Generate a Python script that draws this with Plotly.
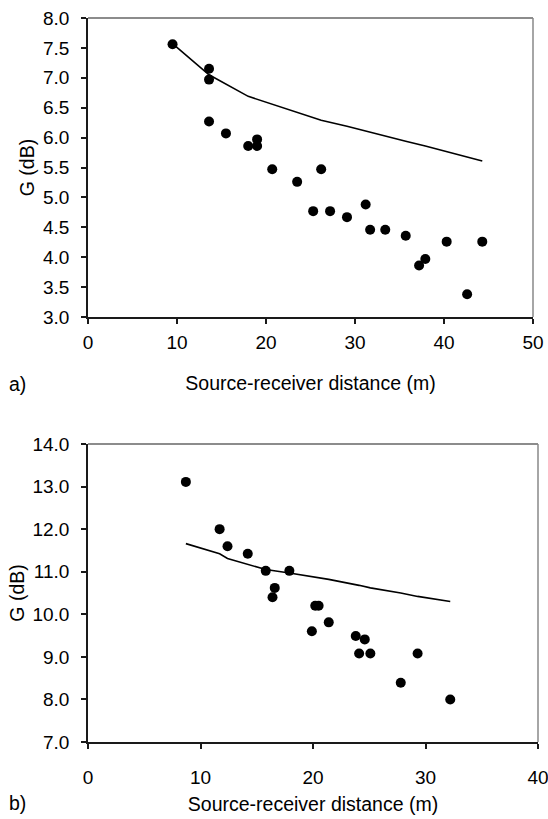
import plotly.graph_objects as go

# Panel a) measured values
a_dist = [9.5, 13.6, 13.6, 13.6, 15.5, 18.0, 19.0, 19.0, 20.7, 23.5, 26.2, 25.3, 27.2,
          29.1, 31.2, 31.7, 33.4, 35.7, 37.2, 37.9, 40.3, 42.6, 44.3]
a_G = [7.56, 7.15, 6.97, 6.27, 6.07, 5.86, 5.97, 5.86, 5.47, 5.26, 5.47, 4.77, 4.77,
       4.67, 4.88, 4.46, 4.46, 4.36, 3.86, 3.97, 4.26, 3.38, 4.26]
# Panel a) predicted curve
a_line_dist = [9.5, 13.6, 18.0, 20.7, 23.5, 26.2, 29.1, 31.7, 33.4, 35.7, 37.9, 40.3, 44.3]
a_line_G = [7.57, 7.05, 6.69, 6.56, 6.42, 6.29, 6.19, 6.09, 6.02, 5.94, 5.86, 5.77, 5.61]

# Panel b) measured values
b_dist = [8.7, 11.7, 12.4, 14.2, 15.8, 16.4, 16.6, 17.9, 20.2, 20.5, 19.9, 21.4, 23.8,
          24.6, 24.1, 25.1, 29.3, 27.8, 32.2]
b_G = [13.11, 12.0, 11.6, 11.42, 11.02, 10.4, 10.62, 11.02, 10.2, 10.2, 9.6, 9.81, 9.49,
       9.41, 9.08, 9.08, 9.08, 8.39, 8.0]
# Panel b) predicted curve
b_line_dist = [8.7, 11.7, 12.4, 14.2, 15.8, 17.9, 20.3, 21.4, 24.1, 25.1, 27.8, 29.3, 32.2]
b_line_G = [11.66, 11.42, 11.31, 11.18, 11.05, 10.97, 10.87, 10.82, 10.68, 10.62, 10.50, 10.42, 10.30]

a_xticks = [0, 10, 20, 30, 40, 50]
a_yticks = [3.0, 3.5, 4.0, 4.5, 5.0, 5.5, 6.0, 6.5, 7.0, 7.5, 8.0]
b_xticks = [0, 10, 20, 30, 40]
b_yticks = [7.0, 8.0, 9.0, 10.0, 11.0, 12.0, 13.0, 14.0]

# full-window figure (the page body margin is removed in post_script below)
W, H = 548, 819


def px(xr):
    return xr / W


def py(yr):
    return 1 - yr / H


FONT = "Liberation Sans, Arial, sans-serif"
AXC = "#1a1a1a"
TICK_SIZE = 19
TITLE_SIZE = 19.5

fig = go.Figure()
fig.add_trace(go.Scatter(x=a_line_dist, y=a_line_G, mode="lines",
                         line=dict(color="black", width=1.6), xaxis="x", yaxis="y",
                         showlegend=False, hoverinfo="skip"))
fig.add_trace(go.Scatter(x=a_dist, y=a_G, mode="markers",
                         marker=dict(color="black", size=10), xaxis="x", yaxis="y",
                         showlegend=False))
fig.add_trace(go.Scatter(x=b_line_dist, y=b_line_G, mode="lines",
                         line=dict(color="black", width=1.6), xaxis="x2", yaxis="y2",
                         showlegend=False, hoverinfo="skip"))
fig.add_trace(go.Scatter(x=b_dist, y=b_G, mode="markers",
                         marker=dict(color="black", size=10), xaxis="x2", yaxis="y2",
                         showlegend=False))

common_ax = dict(showline=True, linecolor=AXC, linewidth=1.5, ticks="outside",
                 ticklen=5, tickwidth=1.5, tickcolor=AXC, showgrid=False,
                 zeroline=False, ticklabeloverflow="allow", automargin=False,
                 tickfont=dict(family=FONT, size=TICK_SIZE, color="black"))

fig.update_layout(
    width=W, height=H, margin=dict(l=0, r=0, t=0, b=0, autoexpand=False),
    paper_bgcolor="white", plot_bgcolor="white",
    font=dict(family=FONT, size=TICK_SIZE, color="black"),
    xaxis=dict(domain=[px(88), px(533)], anchor="y", range=[0, 50],
               tickvals=a_xticks, ticktext=[str(v) for v in a_xticks],
               ticklabelstandoff=2,
               title=dict(text="Source-receiver distance (m)", standoff=25,
                          font=dict(family=FONT, size=TITLE_SIZE)), **common_ax),
    yaxis=dict(domain=[py(317), py(18)], anchor="x", range=[3, 8],
               tickvals=a_yticks, ticktext=[f"{v:.1f}" for v in a_yticks],
               ticklabelstandoff=8,
               title=dict(text="G (dB)", standoff=3,
                          font=dict(family=FONT, size=TITLE_SIZE)), **common_ax),
    xaxis2=dict(domain=[px(88), px(538)], anchor="y2", range=[0, 40],
                tickvals=b_xticks, ticktext=[str(v) for v in b_xticks],
                ticklabelstandoff=12,
                title=dict(text="Source-receiver distance (m)", standoff=11,
                           font=dict(family=FONT, size=TITLE_SIZE)), **common_ax),
    yaxis2=dict(domain=[py(742), py(444)], anchor="x2", range=[7, 14],
                tickvals=b_yticks, ticktext=[f"{v:.1f}" for v in b_yticks],
                ticklabelstandoff=8,
                title=dict(text="G (dB)", standoff=3,
                           font=dict(family=FONT, size=TITLE_SIZE)), **common_ax),
)

# top/right frame in gray
for xr, yr in (("x domain", "y domain"), ("x2 domain", "y2 domain")):
    fig.add_shape(type="line", xref=xr, yref=yr, x0=0, x1=1, y0=1, y1=1,
                  line=dict(color="#666666", width=1.5))
    fig.add_shape(type="line", xref=xr, yref=yr, x0=1, x1=1, y0=0, y1=1,
                  line=dict(color="#888888", width=1.5))

fig.add_annotation(text="a)", xref="paper", yref="paper", x=px(7), y=py(384),
                   xanchor="left", yanchor="middle", showarrow=False,
                   font=dict(family=FONT, size=TITLE_SIZE))
fig.add_annotation(text="b)", xref="paper", yref="paper", x=px(7), y=py(803),
                   xanchor="left", yanchor="middle", showarrow=False,
                   font=dict(family=FONT, size=TITLE_SIZE))

fig.write_html(
    "out.html",
    config={"displayModeBar": False},
    post_script="document.body.style.margin='0';document.body.style.overflow='hidden';",
)
